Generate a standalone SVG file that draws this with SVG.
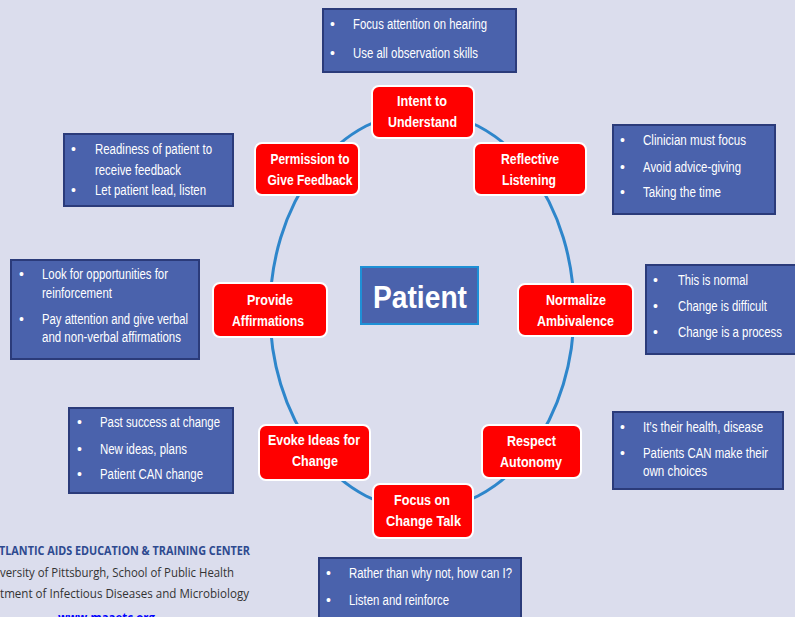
<svg xmlns="http://www.w3.org/2000/svg" width="795" height="617" viewBox="0 0 795 617">
<style>
.bg{fill:#DBDDED}
.red{fill:#FF0000;stroke:#FFFFFF;stroke-width:2}
.rt{font-family:"Liberation Sans",Arial,sans-serif;font-weight:bold;font-size:14px;fill:#FFFFFF;text-anchor:middle}
.box{fill:#4A62AC;stroke:#2B3B7A;stroke-width:2}
.bt{font-family:"Liberation Sans",Arial,sans-serif;font-size:14px;fill:#FFFFFF}
.ft{font-family:"Open Sans","Liberation Sans",sans-serif;font-size:12px;fill:#333333}
</style>
<rect class="bg" x="0" y="0" width="795" height="617"/>
<g id="connectors">
<ellipse cx="422" cy="311" rx="152" ry="199" fill="none" stroke="#2E86CB" stroke-width="3"/>
</g>
<g id="patient">
<rect x="361" y="267" width="117" height="57" fill="#4A62AC" stroke="#1E90D6" stroke-width="2"/>
<text x="420" y="308" font-family="Liberation Sans,Arial,sans-serif" font-weight="bold" font-size="32" fill="#FFFFFF" text-anchor="middle" textLength="94" lengthAdjust="spacingAndGlyphs">Patient</text>
</g>
<g id="intent">
<rect class="red" x="372" y="86" width="102" height="52" rx="7"/>
<text class="rt" x="422" y="106" textLength="50" lengthAdjust="spacingAndGlyphs">Intent to</text><text class="rt" x="422.5" y="127" textLength="69" lengthAdjust="spacingAndGlyphs">Understand</text>
</g>
<g id="permission">
<rect class="red" x="255" y="143" width="104" height="52" rx="7"/>
<text class="rt" x="310" y="164" textLength="79" lengthAdjust="spacingAndGlyphs">Permission to</text><text class="rt" x="310" y="185" textLength="85" lengthAdjust="spacingAndGlyphs">Give Feedback</text>
</g>
<g id="reflective">
<rect class="red" x="474" y="143" width="112" height="52" rx="7"/>
<text class="rt" x="530" y="164" textLength="58" lengthAdjust="spacingAndGlyphs">Reflective</text><text class="rt" x="529" y="185" textLength="54" lengthAdjust="spacingAndGlyphs">Listening</text>
</g>
<g id="affirmations">
<rect class="red" x="213" y="283" width="114" height="54" rx="7"/>
<text class="rt" x="270" y="305" textLength="46" lengthAdjust="spacingAndGlyphs">Provide</text><text class="rt" x="268" y="326" textLength="72" lengthAdjust="spacingAndGlyphs">Affirmations</text>
</g>
<g id="normalize">
<rect class="red" x="518" y="284" width="115" height="52" rx="7"/>
<text class="rt" x="576" y="305" textLength="60" lengthAdjust="spacingAndGlyphs">Normalize</text><text class="rt" x="575.5" y="326" textLength="77" lengthAdjust="spacingAndGlyphs">Ambivalence</text>
</g>
<g id="evoke">
<rect class="red" x="259" y="425" width="111" height="55" rx="7"/>
<text class="rt" x="314" y="445" textLength="92" lengthAdjust="spacingAndGlyphs">Evoke Ideas for</text><text class="rt" x="315" y="466" textLength="46" lengthAdjust="spacingAndGlyphs">Change</text>
</g>
<g id="respect">
<rect class="red" x="482" y="425" width="99" height="53" rx="7"/>
<text class="rt" x="531.5" y="446" textLength="49" lengthAdjust="spacingAndGlyphs">Respect</text><text class="rt" x="531" y="467" textLength="62" lengthAdjust="spacingAndGlyphs">Autonomy</text>
</g>
<g id="focus">
<rect class="red" x="373" y="484" width="100" height="54" rx="7"/>
<text class="rt" x="422" y="505" textLength="56" lengthAdjust="spacingAndGlyphs">Focus on</text><text class="rt" x="423.5" y="526" textLength="75" lengthAdjust="spacingAndGlyphs">Change Talk</text>
</g>
<g id="box-top">
<rect class="box" x="323" y="9" width="193" height="63"/>
<text class="bt" x="330" y="29">•</text><text class="bt" x="353" y="29" textLength="134" lengthAdjust="spacingAndGlyphs">Focus attention on hearing</text>
<text class="bt" x="330" y="58">•</text><text class="bt" x="353" y="58" textLength="125" lengthAdjust="spacingAndGlyphs">Use all observation skills</text>
</g>
<g id="box-topleft">
<rect class="box" x="64" y="134" width="169" height="72"/>
<text class="bt" x="71" y="154">•</text><text class="bt" x="95" y="154" textLength="117" lengthAdjust="spacingAndGlyphs">Readiness of patient to</text>
<text class="bt" x="95" y="175" textLength="86" lengthAdjust="spacingAndGlyphs">receive feedback</text>
<text class="bt" x="71" y="195">•</text><text class="bt" x="95" y="195" textLength="111" lengthAdjust="spacingAndGlyphs">Let patient lead, listen</text>
</g>
<g id="box-topright">
<rect class="box" x="613" y="125" width="162" height="89"/>
<text class="bt" x="620" y="145">•</text><text class="bt" x="643" y="145" textLength="103" lengthAdjust="spacingAndGlyphs">Clinician must focus</text>
<text class="bt" x="620" y="172">•</text><text class="bt" x="643" y="172" textLength="98" lengthAdjust="spacingAndGlyphs">Avoid advice-giving</text>
<text class="bt" x="620" y="197">•</text><text class="bt" x="643" y="197" textLength="78" lengthAdjust="spacingAndGlyphs">Taking the time</text>
</g>
<g id="box-midleft">
<rect class="box" x="11" y="260" width="188" height="99"/>
<text class="bt" x="19" y="279">•</text><text class="bt" x="42" y="279" textLength="126" lengthAdjust="spacingAndGlyphs">Look for opportunities for</text>
<text class="bt" x="42" y="298" textLength="70" lengthAdjust="spacingAndGlyphs">reinforcement</text>
<text class="bt" x="19" y="324">•</text><text class="bt" x="42" y="324" textLength="146" lengthAdjust="spacingAndGlyphs">Pay attention and give verbal</text>
<text class="bt" x="42" y="342" textLength="139" lengthAdjust="spacingAndGlyphs">and non-verbal affirmations</text>
</g>
<g id="box-midright">
<rect class="box" x="646" y="265" width="152" height="89"/>
<text class="bt" x="653" y="285">•</text><text class="bt" x="678" y="285" textLength="70" lengthAdjust="spacingAndGlyphs">This is normal</text>
<text class="bt" x="653" y="311">•</text><text class="bt" x="678" y="311" textLength="89" lengthAdjust="spacingAndGlyphs">Change is difficult</text>
<text class="bt" x="653" y="337">•</text><text class="bt" x="678" y="337" textLength="104" lengthAdjust="spacingAndGlyphs">Change is a process</text>
</g>
<g id="box-bottomleft">
<rect class="box" x="69" y="408" width="164" height="85"/>
<text class="bt" x="77" y="427">•</text><text class="bt" x="100" y="427" textLength="120" lengthAdjust="spacingAndGlyphs">Past success at change</text>
<text class="bt" x="77" y="454">•</text><text class="bt" x="100" y="454" textLength="87" lengthAdjust="spacingAndGlyphs">New ideas, plans</text>
<text class="bt" x="77" y="479">•</text><text class="bt" x="100" y="479" textLength="103" lengthAdjust="spacingAndGlyphs">Patient CAN change</text>
</g>
<g id="box-bottomright">
<rect class="box" x="613" y="412" width="170" height="77"/>
<text class="bt" x="620" y="432">•</text><text class="bt" x="643" y="432" textLength="120" lengthAdjust="spacingAndGlyphs">It’s their health, disease</text>
<text class="bt" x="620" y="458">•</text><text class="bt" x="643" y="458" textLength="125" lengthAdjust="spacingAndGlyphs">Patients CAN make their</text>
<text class="bt" x="643" y="476" textLength="64" lengthAdjust="spacingAndGlyphs">own choices</text>
</g>
<g id="box-bottom">
<rect class="box" x="319" y="558" width="202" height="64"/>
<text class="bt" x="326" y="578">•</text><text class="bt" x="349" y="578" textLength="163" lengthAdjust="spacingAndGlyphs">Rather than why not, how can I?</text>
<text class="bt" x="326" y="605">•</text><text class="bt" x="349" y="605" textLength="100" lengthAdjust="spacingAndGlyphs">Listen and reinforce</text>
</g>
<g id="footer">
<text class="ft" x="-1" y="555" font-weight="bold" style="fill:#2E4A90" textLength="251" lengthAdjust="spacingAndGlyphs">TLANTIC AIDS EDUCATION &amp; TRAINING CENTER</text>
<text class="ft" x="0" y="577" textLength="234" lengthAdjust="spacingAndGlyphs">versity of Pittsburgh, School of Public Health</text>
<text class="ft" x="0" y="598" textLength="249" lengthAdjust="spacingAndGlyphs">tment of Infectious Diseases and Microbiology</text>
<text class="ft" x="58" y="622" font-weight="bold" style="fill:#0000FF" textLength="97" lengthAdjust="spacingAndGlyphs">www.maaetc.org</text>
</g>
</svg>
